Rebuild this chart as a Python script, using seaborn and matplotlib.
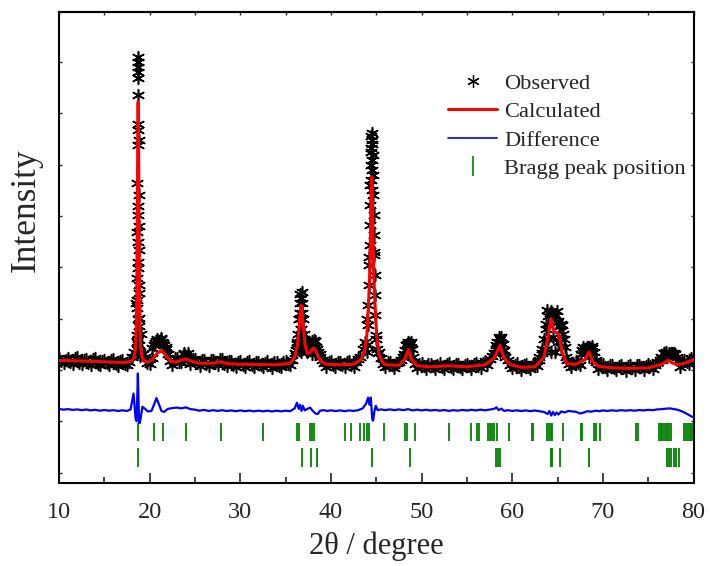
import numpy as np
import pandas as pd
import matplotlib
matplotlib.use("Agg")
import matplotlib.pyplot as plt
from matplotlib.lines import Line2D
import seaborn as sns

# observed counts on the scan grid
tt_scan = np.arange(10.0, 80.01, 0.5)
obs_scan = [
    2240, 2130, 2230, 2110, 2250, 2120, 2210, 2100, 2230, 2090,   # 10-14.5
    2200, 2100, 2210, 2080, 2200, 2100, 2260, 3300, 2700, 2250,   # 15-19.5
    2120, 2480, 2560, 2520, 2300, 2100, 2230, 2150, 2280, 2120,   # 20-24.5
    2210, 2080, 2190, 2080, 2200, 2100, 2220, 2070, 2180, 2060,   # 25-29.5
    2170, 2050, 2170, 2060, 2160, 2050, 2170, 2040, 2160, 2060,   # 30-34.5
    2180, 2090, 2330, 3000, 2600, 2380, 2520, 2400, 2200, 2060,   # 35-39.5
    2170, 2050, 2160, 2050, 2170, 2060, 2210, 2400, 3000, 5500,   # 40-44.5
    2600, 2230, 2050, 2160, 2040, 2150, 2250, 2540, 2260, 2030,   # 45-49.5
    2130, 2020, 2120, 2010, 2130, 2020, 2140, 2020, 2120, 2010,   # 50-54.5
    2120, 2020, 2140, 2040, 2170, 2210, 2320, 2640, 2370, 2200,   # 55-59.5
    2040, 2130, 2000, 2110, 2010, 2120, 2200, 2600, 3050, 3080,   # 60-64.5
    2950, 2880, 2200, 2060, 2180, 2090, 2400, 2440, 2350, 2020,   # 65-69.5
    2110, 2000, 2100, 1990, 2090, 1980, 2090, 1990, 2100, 1990,   # 70-74.5
    2110, 2010, 2150, 2190, 2340, 2320, 2300, 2060, 2200, 2110,   # 75-79.5
    2260,
]
tt_mid = np.arange(10.25, 79.8, 0.5)
obs_mid = [
    2170, 2200, 2150, 2230, 2140, 2190, 2130, 2210, 2120, 2180,   # 10.25-14.75
    2130, 2190, 2110, 2180, 2120, 2160, 2350, 6800, 2300, 2130,   # 15.25-19.75
    2230, 2560, 2620, 2450, 2180, 2230, 2160, 2300, 2200, 2210,   # 20.25-24.75
    2130, 2200, 2110, 2190, 2140, 2220, 2120, 2170, 2100, 2150,   # 25.25-29.75
    2100, 2160, 2090, 2150, 2100, 2140, 2090, 2150, 2080, 2160,   # 30.25-34.75
    2120, 2190, 2550, 3400, 2450, 2400, 2560, 2300, 2130, 2150,   # 35.25-39.75
    2100, 2150, 2090, 2150, 2100, 2150, 2260, 2550, 4200, 4300,   # 40.25-44.75
    2350, 2120, 2150, 2100, 2140, 2200, 2480, 2500, 2120, 2110,   # 45.25-49.75
    2080, 2110, 2070, 2100, 2060, 2120, 2060, 2110, 2050, 2100,   # 50.25-54.75
    2070, 2110, 2080, 2140, 2100, 2270, 2480, 2520, 2250, 2100,   # 55.25-59.75
    2090, 2060, 2100, 2050, 2110, 2070, 2320, 2800, 3150, 3050,   # 60.25-64.75
    2850, 2600, 2120, 2140, 2130, 2380, 2450, 2430, 2150, 2070,   # 65.25-69.75
    2060, 2090, 2040, 2080, 2030, 2080, 2040, 2090, 2050, 2080,   # 70.25-74.75
    2070, 2100, 2200, 2320, 2330, 2300, 2200, 2160, 2160, 2230,   # 75.25-79.75
]

# extra observed points on the peaks
tt_peak = [
    # 18.7
    18.72, 18.76, 18.70, 18.74, 18.68, 18.75, 18.66, 18.78, 18.70, 18.65,
    18.80, 18.72, 18.63, 18.82, 18.66, 18.84, 18.61, 18.86, 18.59, 18.88,
    18.57, 18.92, 18.55, 18.95, 18.68, 18.78, 18.66, 18.76, 18.64, 18.80,
    18.63, 18.82, 18.60, 18.70, 18.75,
    # 21.2 / 24
    20.3, 20.6, 20.8, 21.0, 21.2, 21.4, 21.6, 21.8, 23.8, 24.2,
    # 36.7 / 38.1
    36.30, 36.40, 36.45, 36.55, 36.62, 36.70, 36.78, 36.85, 36.95, 37.05,
    37.15, 36.20, 37.25, 36.60, 36.80, 36.65, 36.75, 36.55, 36.85, 36.70,
    37.4, 37.6, 37.8, 37.95, 38.1, 38.25, 38.4, 38.6, 38.8, 37.9, 38.2,
    # 44.5
    44.50, 44.58, 44.42, 44.62, 44.38, 44.66, 44.34, 44.68, 44.32, 44.72,
    44.28, 44.74, 44.26, 44.78, 44.22, 44.82, 44.18, 44.86, 44.14, 44.90,
    44.08, 44.97, 44.02, 45.05, 43.95, 45.15, 44.45, 44.56, 44.47, 44.53,
    44.55, 44.44,
    # 48.5
    48.1, 48.2, 48.35, 48.65, 48.8, 48.95, 48.5,
    # 58.6
    58.05, 58.2, 58.35, 58.65, 58.8, 58.95, 59.1, 58.6,
    # 64.3 / 65.3
    63.0, 63.3, 63.7, 63.85, 64.15, 64.3, 64.45, 64.6, 64.75, 64.9,
    65.2, 65.35, 65.65, 65.8, 65.95, 64.0, 64.5, 65.0, 63.7, 65.4,
    64.25, 64.75,
    # 68.5
    67.6, 67.8, 68.2, 68.4, 68.6, 68.8, 69.2, 68.5,
    # 77.2
    76.4, 76.7, 77.3, 77.6, 77.9, 78.2,
]
obs_peak = [
    8097, 7999, 7902, 7804, 7687, 7355, 6672, 6477, 6380, 5638,
    5404, 5014, 4682, 4331, 3980, 3648, 3355, 3004, 2673, 2478,
    2400, 2350, 2300, 2280, 5200, 4800, 4500, 4100, 3800, 3500,
    3200, 2850, 2550, 3000, 2600,
    2420, 2520, 2600, 2560, 2610, 2550, 2480, 2400, 2330, 2320,
    2500, 2700, 3000, 3300, 3480, 3400, 3510, 3300, 3000, 2700,
    2500, 2380, 2380, 3100, 3100, 2800, 2800, 2550, 2550, 2350,
    2350, 2400, 2480, 2570, 2590, 2560, 2450, 2350, 2250, 2300, 2320,
    6615, 6477, 6321, 6185, 5990, 5794, 5599, 5404, 5209, 5014,
    4819, 4624, 4429, 4234, 4038, 3843, 3648, 3453, 3258, 3063,
    2868, 2673, 2478, 2400, 2350, 2330, 6550, 6400, 6250, 6100,
    5900, 5700,
    2300, 2380, 2500, 2530, 2540, 2400, 2300,
    2330, 2400, 2550, 2600, 2650, 2500, 2380, 2350,
    2250, 2400, 2900, 3160, 3100, 3120, 3080, 3000, 3060, 3150,
    2850, 2900, 2700, 2450, 2250, 2600, 2650, 2550, 2400, 2450,
    2350, 2350,
    2300, 2450, 2420, 2440, 2420, 2460, 2200, 2250,
    2250, 2330, 2300, 2330, 2320, 2250,
]

# calculated profile
calc_tt = [
    10.0, 12.0, 14.0, 16.0, 17.0, 18.0, 18.3, 18.45, 18.55, 18.62,
    18.68, 18.73, 18.78, 18.84, 18.91, 19.0, 19.15, 19.4, 19.8, 20.3,
    20.8, 21.3, 21.8, 22.3, 22.8, 23.5, 24.0, 24.5, 25.5, 27.0,
    27.8, 28.5, 30.0, 32.0, 34.0, 35.5, 36.0, 36.3, 36.5, 36.62,
    36.72, 36.82, 36.95, 37.15, 37.4, 37.7, 37.95, 38.1, 38.3, 38.6,
    39.0, 39.5, 41.0, 42.5, 43.3, 43.7, 43.95, 44.15, 44.3, 44.4,
    44.5, 44.6, 44.7, 44.85, 45.05, 45.3, 45.7, 46.0, 47.5, 48.1,
    48.55, 48.9, 49.5, 51.0, 53.0, 55.0, 57.0, 58.0, 58.65, 59.1,
    59.8, 61.0, 62.5, 63.5, 64.0, 64.26, 64.6, 65.14, 65.5, 66.0,
    67.0, 68.0, 68.47, 68.9, 69.5, 71.0, 73.0, 75.0, 76.5, 77.2,
    77.6, 78.2, 79.0, 80.0,
]
calc_i = [
    2185, 2175, 2165, 2150, 2140, 2170, 2250, 2450, 3000, 4500,
    6300, 7225, 6300, 4500, 3000, 2450, 2250, 2170, 2150, 2200,
    2320, 2380, 2280, 2170, 2150, 2190, 2215, 2175, 2130, 2130,
    2160, 2120, 2110, 2105, 2100, 2130, 2250, 2480, 2850, 3150,
    3260, 3150, 2850, 2480, 2320, 2340, 2410, 2420, 2380, 2250,
    2150, 2110, 2100, 2110, 2200, 2350, 2650, 3300, 4000, 5100,
    5760, 5100, 4000, 3300, 2650, 2300, 2150, 2100, 2090, 2200,
    2395, 2200, 2080, 2060, 2080, 2060, 2100, 2230, 2478, 2230,
    2100, 2050, 2060, 2250, 2700, 2998, 2750, 2693, 2350, 2120,
    2110, 2200, 2348, 2150, 2070, 2040, 2030, 2040, 2110, 2185,
    2140, 2100, 2130, 2200,
]

# difference curve (already offset in the figure)
diff_tt = [
    10.0, 10.5, 11.0, 11.5, 12.0, 12.5, 13.0, 13.5, 14.0, 14.5,
    15.0, 15.5, 16.0, 16.5, 17.0, 17.5, 17.9, 18.1, 18.22, 18.35,
    18.45, 18.55, 18.63, 18.7, 18.76, 18.83, 18.9, 19.0, 19.2, 19.5,
    19.8, 20.2, 20.5, 20.75, 21.0, 21.3, 21.6, 22.0, 22.5, 23.0,
    23.5, 24.0, 24.5, 25.0, 25.5, 26.0, 26.5, 27.0, 27.5, 28.0,
    28.5, 29.0, 29.5, 30.0, 30.5, 31.0, 31.5, 32.0, 32.5, 33.0,
    33.5, 34.0, 34.5, 35.0, 35.5, 36.0, 36.25, 36.45, 36.6, 36.75,
    36.9, 37.1, 37.4, 37.7, 38.0, 38.3, 38.55, 38.8, 39.2, 39.6,
    40.0, 40.5, 41.0, 41.5, 42.0, 42.5, 43.0, 43.5, 43.9, 44.1,
    44.25, 44.4, 44.55, 44.65, 44.8, 44.95, 45.15, 45.5, 46.0, 46.5,
    47.0, 47.5, 48.0, 48.5, 49.0, 49.5, 50.0, 50.5, 51.0, 51.5,
    52.0, 52.5, 53.0, 53.5, 54.0, 54.5, 55.0, 55.5, 56.0, 56.5,
    57.0, 57.5, 58.0, 58.25, 58.5, 58.8, 59.1, 59.5, 60.0, 60.5,
    61.0, 61.5, 62.0, 62.5, 63.0, 63.5, 63.9, 64.1, 64.3, 64.5,
    64.7, 64.9, 65.1, 65.4, 65.8, 66.2, 66.6, 67.0, 67.5, 67.9,
    68.3, 68.7, 69.2, 69.6, 70.0, 70.5, 71.0, 71.5, 72.0, 72.5,
    73.0, 73.5, 74.0, 74.5, 75.0, 75.5, 76.0, 76.5, 77.0, 77.4,
    77.8, 78.2, 78.6, 79.0, 79.4, 79.8, 80.0,
]
diff_i = [
    1240, 1225, 1235, 1220, 1230, 1215, 1228, 1210, 1222, 1205,
    1218, 1205, 1215, 1200, 1212, 1200, 1230, 1420, 1540, 1250,
    1050, 1000, 1450, 1930, 1500, 1000, 960, 1050, 1280, 1240,
    1190, 1200, 1330, 1450, 1340, 1200, 1180, 1240, 1255, 1265,
    1250, 1270, 1235, 1225, 1205, 1220, 1200, 1215, 1200, 1215,
    1198, 1210, 1195, 1210, 1195, 1208, 1192, 1206, 1192, 1205,
    1190, 1205, 1192, 1205, 1195, 1250, 1360, 1240, 1320, 1200,
    1300, 1210, 1240, 1265, 1200, 1150, 1140, 1205, 1215, 1200,
    1212, 1198, 1210, 1196, 1210, 1200, 1215, 1250, 1350, 1460,
    1320, 1460, 1050, 1010, 1200, 1300, 1215, 1230, 1215, 1230,
    1215, 1230, 1215, 1235, 1210, 1225, 1210, 1222, 1208, 1220,
    1205, 1218, 1200, 1215, 1205, 1220, 1208, 1222, 1210, 1225,
    1212, 1225, 1240, 1270, 1215, 1245, 1200, 1215, 1200, 1212,
    1198, 1210, 1196, 1208, 1195, 1180, 1140, 1200, 1110, 1180,
    1120, 1170, 1130, 1190, 1170, 1200, 1190, 1185, 1150, 1170,
    1195, 1185, 1205, 1195, 1210, 1200, 1212, 1202, 1215, 1205,
    1215, 1205, 1218, 1210, 1222, 1215, 1230, 1235, 1245, 1250,
    1235, 1225, 1200, 1170, 1130, 1090, 1080,
]

# Bragg reflections, two phases
bragg_1 = [
    18.66, 20.49, 21.48, 23.98, 27.83, 32.49, 36.30, 36.45, 37.66, 37.92,
    38.18, 41.59, 42.21, 43.24, 43.60, 43.97, 44.23, 45.88, 48.19, 48.38,
    49.22, 53.03, 55.45, 56.15, 56.37, 57.36, 57.55, 57.73, 57.99, 58.28,
    59.67, 62.13, 62.24, 63.89, 64.07, 64.26, 64.44, 65.55, 67.56, 67.71,
    68.99, 69.29, 69.65, 73.69, 73.91, 76.18, 76.37, 76.55, 76.73, 76.92,
    77.10, 77.28, 77.54, 79.00, 79.19, 79.37, 79.56, 79.74, 79.92,
]
bragg_2 = [
    18.66, 36.82, 37.85, 38.47, 44.52, 48.67, 58.21, 58.39, 58.65, 64.26,
    64.44, 65.25, 68.44, 77.06, 77.30, 77.54, 77.80, 78.06, 78.40,
]

obs = pd.DataFrame({
    "tt": np.concatenate([tt_scan, tt_mid, tt_peak]),
    "I": np.concatenate([obs_scan, obs_mid, obs_peak]),
})
calc = pd.DataFrame({"tt": calc_tt, "I": calc_i})
diff = pd.DataFrame({"tt": diff_tt, "I": diff_i})

sns.set_style("ticks")
plt.rcParams["font.family"] = ["Liberation Serif", "DejaVu Serif"]

fig = plt.figure(figsize=(7.1, 5.66), dpi=100)
ax = fig.add_axes([0.0831, 0.1466, 0.8937, 0.8322])

sns.scatterplot(data=obs, x="tt", y="I", ax=ax, marker=(6, 2, 0), s=72,
                color="black", linewidth=1.15, zorder=2, legend=False)
sns.lineplot(data=calc, x="tt", y="I", ax=ax, color="red", lw=2.2,
             estimator=None, sort=False, zorder=3)
sns.lineplot(data=diff, x="tt", y="I", ax=ax, color="blue", lw=1.6,
             estimator=None, sort=False, zorder=3)
ax.vlines(bragg_1, 605, 956, color="green", lw=1.3, zorder=2)
ax.vlines(bragg_2, 117, 468, color="green", lw=1.3, zorder=2)

ax.set_xlim(10, 80)
ax.set_ylim(-205, 8975)
ax.set_xticks(np.arange(10, 81, 10))
ax.set_xticks(np.arange(15, 80, 10), minor=True)
ax.set_yticks(np.arange(0, 8001, 1000))
ax.tick_params(axis="x", which="major", direction="in", length=7, width=1.2,
               labelsize=17.5, pad=14)
ax.tick_params(axis="x", which="minor", direction="in", length=4.5, width=1.2)
ax.tick_params(axis="y", direction="in", length=2.5, width=1, left=True,
               right=True, labelleft=False)
top = ax.secondary_xaxis("top")
top.set_xticks(np.arange(10, 81, 5))
top.tick_params(direction="in", length=2, width=1, labeltop=False)
for sp in list(ax.spines.values()) + [top.spines["top"]]:
    sp.set_linewidth(1.5)
    sp.set_color("black")

ax.set_xlabel("2θ / degree", fontsize=22, labelpad=6)
ax.set_ylabel("Intensity", fontsize=25.5)
ax.yaxis.set_label_coords(-0.026, 0.58)

handles = [
    Line2D([], [], ls="", marker=(6, 2, 0), markersize=9, color="black",
           markeredgewidth=0.9),
    Line2D([], [], color="red", lw=2.2),
    Line2D([], [], color="blue", lw=1.2),
    Line2D([], [], ls="", marker="|", markersize=14, color="green",
           markeredgewidth=1.2),
]
labels = ["Observed", "Calculated", "Difference", "Bragg peak position"]
ax.legend(handles, labels, loc="upper left", bbox_to_anchor=(0.595, 0.894),
          frameon=False, fontsize=16.2, handlelength=2.2, handletextpad=0.3,
          labelspacing=0.34, borderpad=0)

fig.savefig("out.png", dpi=100)
